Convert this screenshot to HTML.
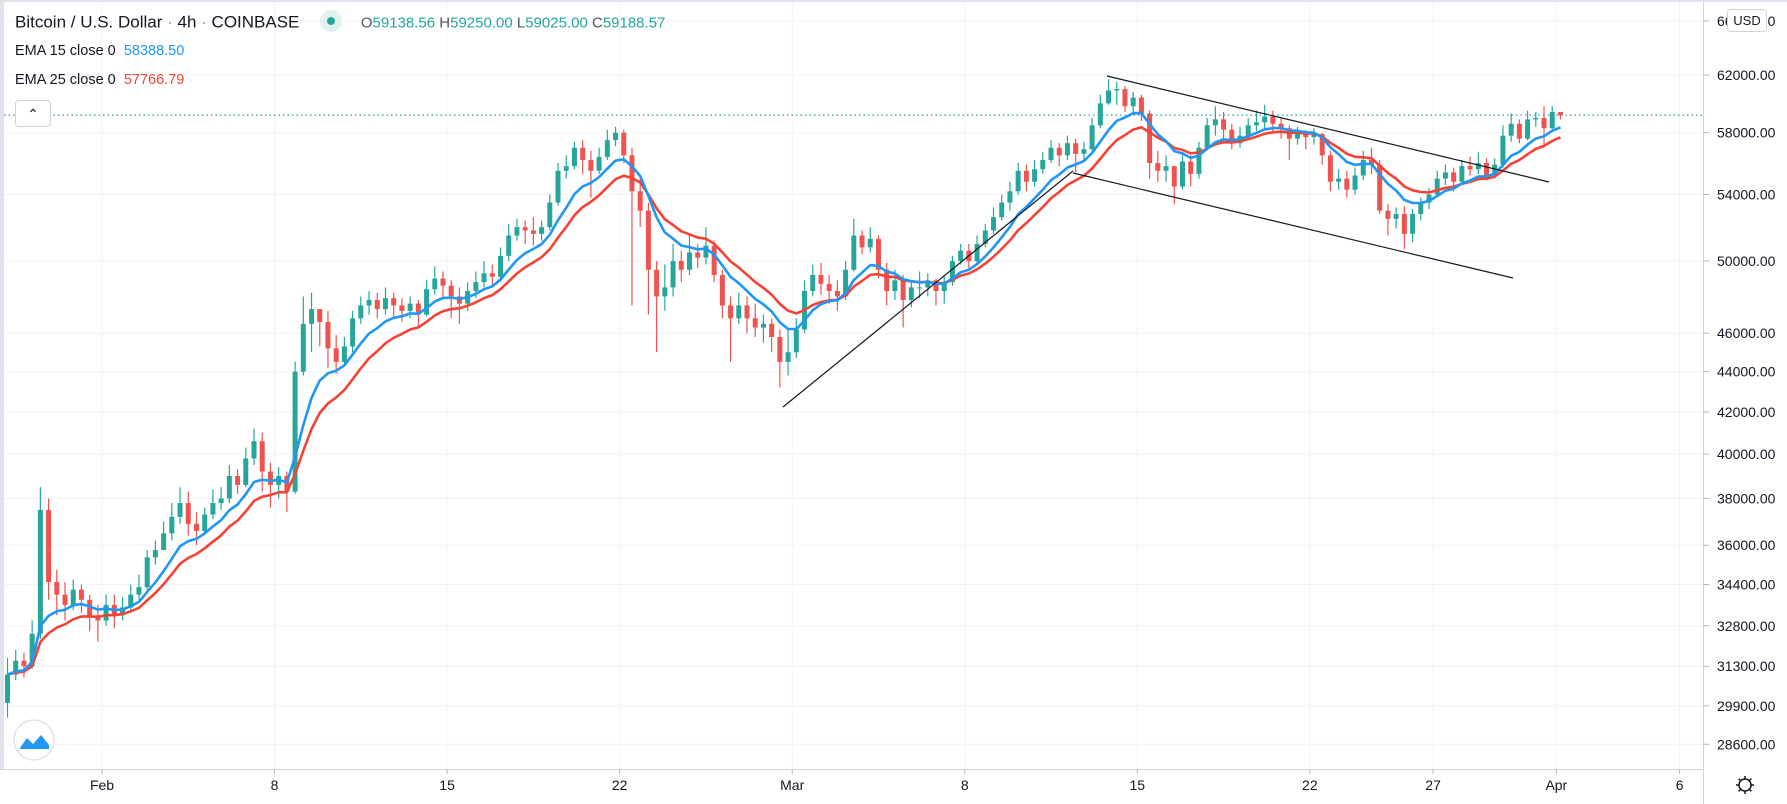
<!DOCTYPE html>
<html><head><meta charset="utf-8"><style>
html,body{margin:0;padding:0;background:#fff;width:1787px;height:804px;overflow:hidden;font-family:"Liberation Sans",sans-serif}
#wrap{position:relative;width:1787px;height:804px}
svg{position:absolute;left:0;top:0}
.hdr{position:absolute;left:15px;color:#131722;white-space:nowrap}
</style></head><body>
<div id="wrap">
<svg id="chart" width="1787" height="804"></svg>
<div class="hdr" style="top:12px;font-size:17px">Bitcoin / U.S. Dollar <span style="color:#999">·</span> 4h <span style="color:#999">·</span> COINBASE
<span style="display:inline-block;width:22px;height:22px;border-radius:11px;background:#dff2ef;vertical-align:middle;margin:0 14px 0 16px;position:relative;top:-2px"><span style="position:absolute;left:7px;top:7px;width:8px;height:8px;border-radius:4px;background:#26a69a"></span></span>
<span style="font-size:15px"><span style="color:#555">O</span><span style="color:#26a69a">59138.56</span> <span style="color:#555">H</span><span style="color:#26a69a">59250.00</span> <span style="color:#555">L</span><span style="color:#26a69a">59025.00</span> <span style="color:#555">C</span><span style="color:#26a69a">59188.57</span></span></div>
<div class="hdr" style="top:43px;font-size:14.5px">EMA 15 close 0 &nbsp;<span style="color:#2196f3">58388.50</span></div>
<div class="hdr" style="top:72px;font-size:14.5px">EMA 25 close 0 &nbsp;<span style="color:#f44336">57766.79</span></div>
<div style="position:absolute;left:15px;top:100px;width:34px;height:25px;border:1px solid #d1d4dc;border-radius:4px;background:#fff;text-align:center;font-size:14px;line-height:27px;color:#131722">&#8963;</div>
<div style="position:absolute;left:1727px;top:9px;width:38px;height:21px;border:1px solid #d1d4dc;border-radius:4px;background:#fff;font-size:13px;line-height:21px;text-align:center;color:#131722">USD</div>
</div>
<script>
const closes=[31.0,31.5,31.3, 32.5,37.5,34.5, 34.0,33.6,34.2, 33.8,33.2,33.0, 33.6,33.2,33.5, 34.0,34.3,35.5, 35.8,36.5,37.2, 37.8,36.9,36.6, 37.3,37.8,38.0, 39.0,38.6,39.8, 40.6,39.2,38.6, 39.0,38.3,44.0, 46.5,47.3,46.6, 45.2,44.5,45.3, 46.8,47.5,47.8, 47.3,47.9,47.5, 47.2,47.6,47.0, 48.4,49.0,48.6, 48.0,47.6,48.3, 48.8,49.3,49.1, 50.3,51.5,52.0, 51.8,51.6,52.0, 53.5,55.5,55.8, 57.0,56.2,55.5, 56.4,57.5,58.0, 56.5,54.2,53.0, 49.5,48.0,48.5, 50.0,49.5,50.5, 50.2,50.9,49.2, 47.5,46.8,47.5, 46.8,46.3,46.5, 45.8,44.5,45.0, 46.2,48.3,49.2, 48.7,48.3,48.0, 49.5,51.5,50.8, 51.3,49.5,48.3, 48.9,47.8,48.5, 48.5,48.9,48.3, 48.8,50.0,50.6, 50.0,51.0,51.8, 52.6,53.5,54.2, 55.5,54.8,55.6, 56.2,57.0,56.5, 57.3,56.6,56.9, 58.5,60.0,60.9, 61.0,59.8,60.4, 59.3,56.0,55.5, 55.8,54.5,56.1, 55.3,57.0,58.5, 58.9,58.2,57.3, 57.8,58.5,58.7, 59.1,58.6,58.3, 57.6,58.0,57.7, 57.9,56.5,54.8, 55.0,54.3,55.2, 56.2,55.9,53.0, 52.5,52.8,51.6, 52.8,53.5,54.0, 55.0,55.4,54.8, 55.8,55.6,56.0, 55.2,55.9,57.8, 58.6,57.6,58.9, 59.0,58.3,59.4, 59.19];
const highs=[31.6,31.9,31.8, 33.0,38.5,38.0, 35.0,34.5,34.6, 34.4,34.0,33.6, 34.0,34.0,33.9, 34.4,34.8,35.8, 36.2,37.0,37.8, 38.5,38.3,37.4, 37.6,38.4,38.5, 39.5,39.3,40.3, 41.2,41.0,39.6, 39.4,39.2,44.5, 48.0,48.2,47.2, 47.2,45.9,45.8, 47.2,48.0,48.3, 48.2,48.5,48.2, 47.9,48.0,47.8, 48.9,49.7,49.4, 48.9,48.5,48.8, 49.4,50.0,49.8, 50.8,52.2,52.5, 52.4,52.6,52.4, 54.0,56.0,56.5, 57.4,57.5,56.8, 57.0,58.2,58.4, 58.2,57.0,55.0, 53.5,50.0,49.8, 51.0,50.6,51.5, 51.0,52.0,51.2, 49.5,48.0,48.2, 48.0,47.6,47.0, 46.8,46.2,46.3, 46.8,48.9,49.8, 49.9,49.2,48.9, 50.0,52.5,51.8, 52.0,51.5,49.9, 49.5,49.2,48.8, 49.4,49.3,49.0, 49.2,50.3,51.0, 51.0,51.5,52.2, 53.2,54.0,54.8, 56.0,55.9,56.2, 56.7,57.5,57.3, 57.8,57.6,57.4, 59.0,60.6,61.7, 61.5,61.2,60.8, 60.6,59.5,56.8, 56.5,55.8,56.6, 56.5,57.4,59.0, 59.8,59.4,58.6, 58.4,59.0,59.5, 59.9,59.5,59.0, 58.5,58.4,58.2, 58.3,58.0,56.8, 55.6,55.5,55.7, 56.8,57.0,56.2, 53.4,53.2,53.3, 53.1,53.8,54.4, 55.5,55.9,55.7, 56.2,56.4,56.7, 56.3,56.3,58.5, 59.3,58.9,59.5, 59.4,59.8,59.8, 59.25];
const lows=[29.5,30.8,30.9, 31.2,32.3,33.8, 33.2,33.0,33.4, 33.3,32.6,32.2, 32.8,32.7,33.0, 33.3,33.8,34.2, 35.2,35.9,36.2, 36.9,36.4,36.0, 36.5,37.1,37.5, 37.8,38.2,38.5, 39.5,38.3,37.6, 38.0,37.4,38.2, 43.8,45.0,45.3, 44.2,43.9,44.3, 45.0,46.5,47.0, 46.8,47.0,46.9, 46.6,46.8,46.3, 46.9,48.1,47.9, 46.8,46.5,47.2, 47.9,48.5,48.6, 48.8,50.0,51.2, 51.0,50.9,51.2, 51.8,53.3,55.0, 55.6,55.3,53.8, 55.3,56.2,57.1, 56.0,47.5,52.0, 47.0,45.0,47.2, 48.0,48.8,49.2, 49.6,49.8,48.8, 46.8,44.5,46.5, 46.0,45.8,45.5, 45.0,43.2,43.8, 44.7,46.0,48.0, 48.1,47.6,47.2, 47.8,49.4,50.4, 50.5,49.0,47.5, 47.8,46.3,47.4, 47.9,48.0,47.5, 47.6,48.6,49.8, 49.5,49.8,50.8, 51.6,52.4,53.0, 54.0,54.2,54.5, 55.3,56.0,55.8, 56.2,55.4,56.1, 56.8,58.3,59.9, 59.9,59.4,59.2, 58.8,55.0,54.8, 54.8,53.4,54.3, 54.5,55.0,56.8, 57.8,57.5,56.9, 57.0,57.6,58.1, 58.3,58.1,57.6, 56.2,57.2,56.9, 57.2,55.9,54.2, 54.3,53.8,54.0, 54.9,55.3,52.8, 51.5,51.9,50.7, 51.1,52.4,53.1, 53.9,54.6,54.2, 54.6,55.2,55.3, 54.9,55.0,55.7, 57.4,57.3,57.5, 58.4,57.0,58.2, 58.9];
const firstOpen=30.0;
const startDay=-4;
const priceTicks=[62000,58000,54000,50000,46000,44000,42000,40000,38000,36000,34400,32800,31300,29900,28600];
const dateTicks=["Feb","8","15","22","Mar","8","15","22","27","Apr","6"];
const dateTickDays=[0,7,14,21,28,35,42,49,54,59,64];
const lastPrice=59188.57;

const NS="http://www.w3.org/2000/svg";
const svg=document.getElementById('chart');
const AX=1703, BOT=769;
function yOf(p){return 75+865*Math.log(62000/p);}
function xOf(d){return 102+24.65*d;}
function mk(tag,attrs,parent){const e=document.createElementNS(NS,tag);for(const k in attrs)e.setAttribute(k,attrs[k]);(parent||svg).appendChild(e);return e;}

const grid=mk('g',{});


[66000].concat(priceTicks).forEach(p=>{const y=yOf(p);const l=mk('line',{x1:0,x2:AX,y1:y,y2:y,stroke:'#f0f3fa','stroke-width':1},grid);

});
dateTickDays.forEach(d=>{const x=xOf(d);const l=mk('line',{x1:x,x2:x,y1:0,y2:BOT,stroke:'#f0f3fa','stroke-width':1},grid);

});

// left edge and top strip
const le=mk('rect',{x:0,y:0,width:4,height:BOT,fill:'#e0e3eb'});



// candles
const cg=mk('g',{});


const cx=[];
closes.forEach((c,i)=>{
  const o=i===0?firstOpen:closes[i-1];
  const d=startDay+i/3+1/6; const x=xOf(d); cx.push(x);
  const up=c>=o; const col=up?'#26a69a':'#ef5350';
  const w=mk('line',{x1:x,x2:x,y1:yOf(highs[i]*1000),y2:yOf(lows[i]*1000),stroke:col,'stroke-width':1.2},cg);
  
  
  const yt=yOf(Math.max(o,c)*1000), yb=yOf(Math.min(o,c)*1000);
  const b=mk('rect',{x:x-2.5,y:yt,width:5,height:Math.max(1,yb-yt),fill:col},cg);
  
  
});

// EMAs
function ema(n){const a=2/(n+1);let v=closes[0];return closes.map(c=>(v=v+a*(c-v)));}
function path(vals){return vals.map((v,i)=>(i?'L':'M')+cx[i].toFixed(1)+' '+yOf(v*1000).toFixed(1)).join(' ');}
const e25=mk('path',{d:path(ema(13)),fill:'none',stroke:'#f44336','stroke-width':2.6,'stroke-linejoin':'round'});


const e15=mk('path',{d:path(ema(8)),fill:'none',stroke:'#2196f3','stroke-width':2.6,'stroke-linejoin':'round'});



// trend lines (drawings)
[[783,407,1073,171,'support-trendline'],[1107,76,1549,182,'channel-upper-line'],[1073,173,1513,278,'channel-lower-line']].forEach(t=>{
  const l=mk('line',{x1:t[0],y1:t[1],x2:t[2],y2:t[3],stroke:'#131722','stroke-width':1.2});
  
  
});

// last price line
const lp=mk('line',{x1:4,x2:AX,y1:yOf(lastPrice),y2:yOf(lastPrice),stroke:'#26a69a','stroke-width':1.2,'stroke-dasharray':'1.5 3'});



// axes
const ax=mk('line',{x1:AX+0.5,x2:AX+0.5,y1:0,y2:804,stroke:'#d1d4dc'});


const bx=mk('line',{x1:0,x2:AX,y1:BOT+0.5,y2:BOT+0.5,stroke:'#d1d4dc'});


const ts=mk('rect',{x:0,y:0,width:1787,height:2,fill:'#e0e3eb'});


[66000].concat(priceTicks).forEach(p=>{
  const y=yOf(p);
  const tk=mk('line',{x1:AX,x2:AX+6,y1:y,y2:y,stroke:'#b2b5be'});
  
  
  const t=mk('text',{x:1717,y:y+5,'font-size':14,fill:'#131722','font-family':'Liberation Sans, sans-serif'});
  t.textContent=p.toFixed(2);
  
  
});
dateTicks.forEach((lab,i)=>{
  const x=xOf(dateTickDays[i]);
  const tk=mk('line',{x1:x,x2:x,y1:BOT,y2:BOT+5,stroke:'#b2b5be'});
  
  
  const t=mk('text',{x:x,y:790,'font-size':14,fill:'#131722','text-anchor':'middle','font-family':'Liberation Sans, sans-serif'});
  t.textContent=lab;
  
  
});
// logo
const lg=mk('g',{});


mk('circle',{cx:34,cy:740,r:20,fill:'#fff',stroke:'#e0e3eb','stroke-width':1.5},lg);
mk('path',{d:'M20 748 L27 738 L33 744 L41 735 L49 745 L49 749 L20 749 Z',fill:'#2196f3'},lg);
// gear
const gg=mk('g',{});


mk('circle',{cx:1745,cy:785,r:6,fill:'none',stroke:'#131722','stroke-width':1.5},gg);
for(let k=0;k<8;k++){const a=k*Math.PI/4;mk('line',{x1:1745+6*Math.cos(a),y1:785+6*Math.sin(a),x2:1745+9*Math.cos(a),y2:785+9*Math.sin(a),stroke:'#131722','stroke-width':1.5},gg);}
</script>
</body></html>
